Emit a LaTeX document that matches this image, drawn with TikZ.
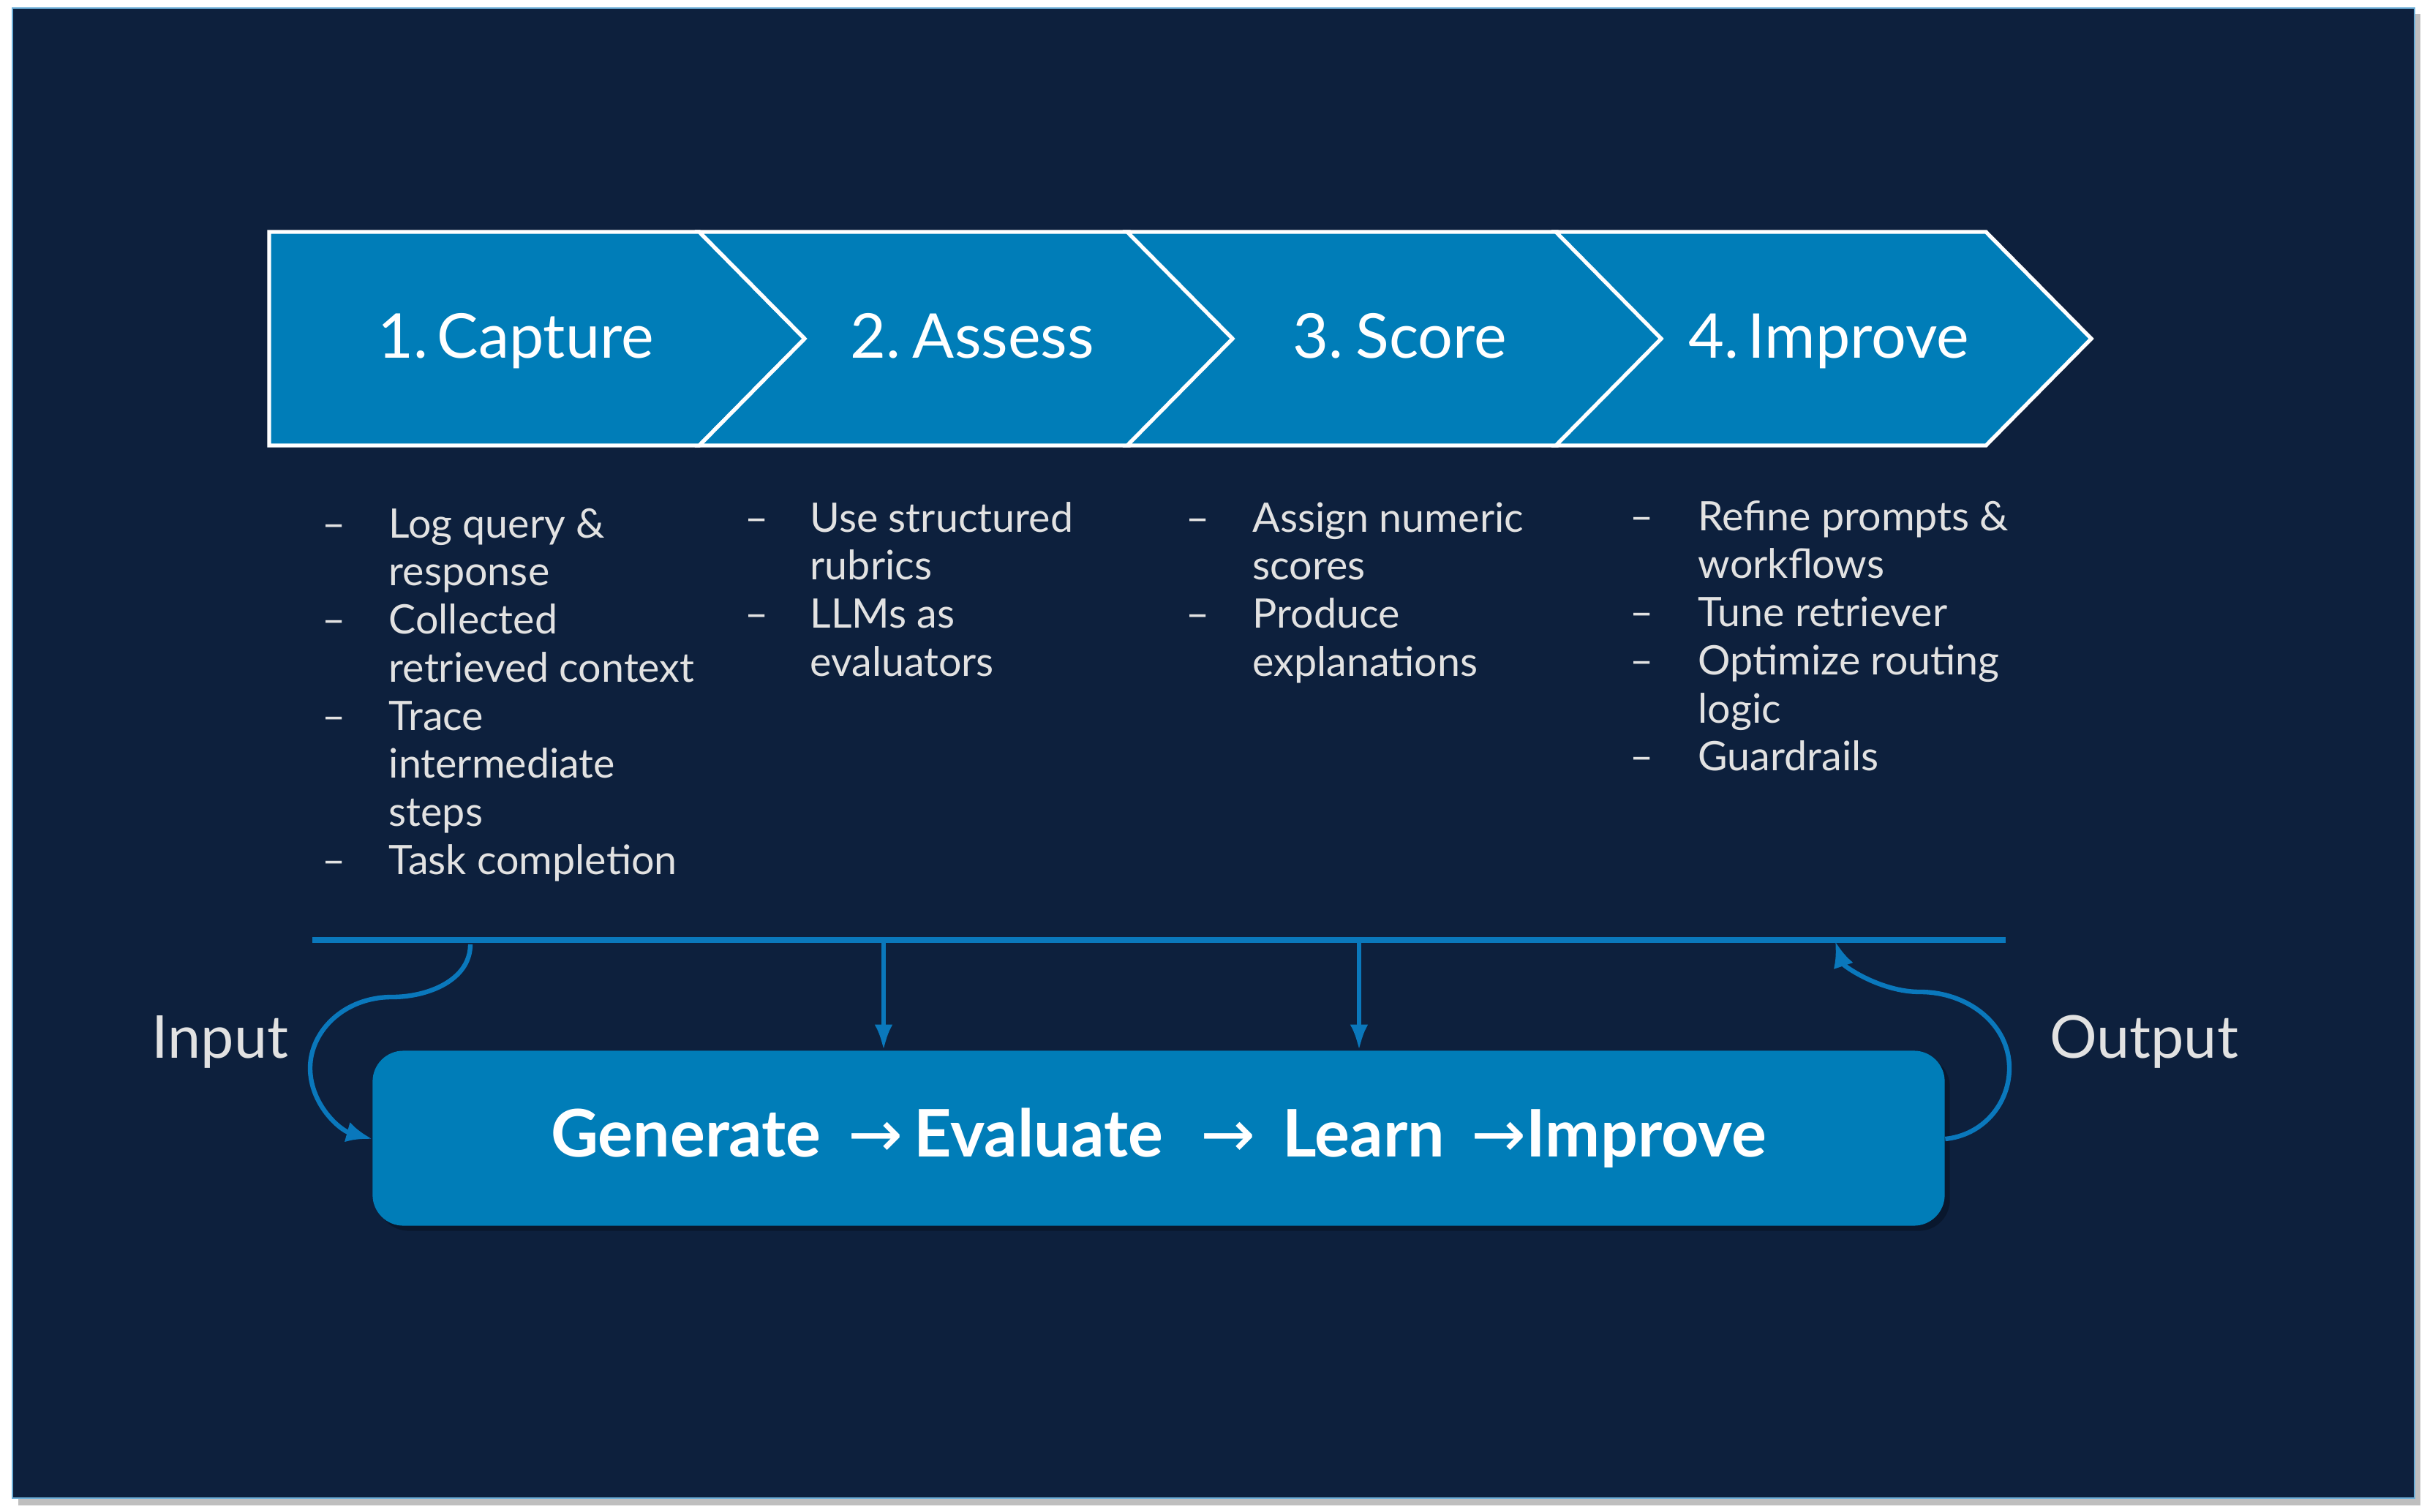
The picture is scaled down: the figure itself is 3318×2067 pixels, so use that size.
\documentclass[tikz,border=0pt]{standalone}
\usepackage{fontspec}
\setmainfont{Lato}
\newfontfamily\arrfont{DejaVu Sans}
\usetikzlibrary{arrows.meta,shadows}
\definecolor{bgc}{HTML}{0D203D}
\definecolor{chev}{HTML}{007DB8}
\definecolor{ln}{HTML}{0A78BC}
\definecolor{txt}{HTML}{E2E2E2}
\begin{document}
\begin{tikzpicture}[x=0.01cm,y=-0.01cm,
  chevbox/.style={fill=chev,draw=white,line width=1.5pt,line join=miter},
  chevlabel/.style={text=white,anchor=base,inner sep=0pt,font=\fontsize{24}{28}\selectfont},
  bullets/.style={text=txt,anchor=base west,inner sep=0pt,font=\fontsize{15.8}{18.7}\selectfont},
  conn/.style={draw=ln,line width=1.8pt},
  side/.style={text=txt,font=\fontsize{23}{26}\selectfont,anchor=base}]
\useasboundingbox (0,0) rectangle (3318,2067);
\fill[white] (0,0) rectangle (3318,2067);
\fill[black!25] (25,19) rectangle (3309,2058);
\fill[bgc,draw=ln!60,line width=0.5pt] (17,11) rectangle (3301,2048);
% chevrons
\foreach \s/\n/\t/\dx in {368/c1/1.\hspace{0.15em}Capture/337,956/c2/2.\hspace{0.2em}Assess/373,1541/c3/3.\hspace{0.2em}Score/373,2127/c4/4.\hspace{0.15em}Improve/373}{
  \ifnum\s=368
    \draw[chevbox] (\s,317) -- (\s+588,317) -- (\s+732,463) -- (\s+588,609) -- (\s,609) -- cycle;
  \else
    \draw[chevbox] (\s,317) -- (\s+588,317) -- (\s+732,463) -- (\s+588,609) -- (\s,609) -- (\s+144,463) -- cycle;
  \fi
  \node[chevlabel] (\n) at (\s+\dx,489) {\t};
}
% bullets
\node[bullets] (b1) at (440,735) {\begin{tabular}[t]{@{}p{0.91cm}@{}l@{}}
–& Log query \&\\ & response\\ –& Collected\\ & retrieved context\\ –& Trace\\ & intermediate\\ & steps\\ –& Task completion\end{tabular}};
\node[bullets] (b2) at (1018,727) {\begin{tabular}[t]{@{}p{0.89cm}@{}l@{}}
–& Use structured\\ & rubrics\\ –& LLMs as\\ & evaluators\end{tabular}};
\node[bullets] (b3) at (1621,727) {\begin{tabular}[t]{@{}p{0.91cm}@{}l@{}}
–& Assign numeric\\ & scores\\ –& Produce\\ & explanations\end{tabular}};
\node[bullets] (b4) at (2228,725) {\begin{tabular}[t]{@{}p{0.93cm}@{}l@{}}
–& Refine prompts \&\\ & workflows\\ –& Tune retriever\\ –& Optimize routing\\ & logic\\ –& Guardrails\end{tabular}};
% horizontal line
\coordinate (hl) at (427,1285);
\coordinate (hr) at (2742,1285);
\draw[ln,line width=2.2pt] (hl) -- (hr);
% main box
\node[fill=chev,rounded corners=0.42cm,minimum width=21.48cm,minimum height=2.39cm,
  drop shadow={shadow xshift=2pt,shadow yshift=-2pt,fill=black,opacity=0.25},
  text=white,font=\bfseries\fontsize{25.5}{28}\selectfont] (gen) at (1584,1556)
  {Generate {\arrfont\fontseries{m}\selectfont\,→}\,Evaluate\, {\arrfont\fontseries{m}\selectfont\,→}\, Learn\, {\arrfont\fontseries{m}\selectfont→}Improve};
\coordinate (d1) at (1208,1285);
\coordinate (d2) at (1858,1285);
\draw[conn,-{Latex[length=10pt,width=7pt]}] (d1) -- (d1 |- gen.north);
\draw[conn,-{Latex[length=10pt,width=7pt]}] (d2) -- (d2 |- gen.north);
% input / output
\coordinate (ins) at (643,1291);
\draw[conn,-{Latex[length=10pt,width=8pt]}] (ins) .. controls (643,1340) and (585,1363) .. (536,1363)
  .. controls (470,1363) and (424,1410) .. (424,1460)
  .. controls (424,1510) and (465,1545) .. (gen.west |- 0,1557);
\coordinate (outs) at (2509,1287);
\draw[conn,{Latex[length=10pt,width=8pt]}-] (outs) .. controls (2520,1320) and (2570,1356) .. (2625,1356)
  .. controls (2690,1356) and (2747,1400) .. (2747,1460)
  .. controls (2747,1510) and (2710,1552) .. (gen.east |- 0,1557);
\node[side] (inp) at (301,1446) {Input};
\node[side] (outp) at (2931,1446) {Output};
\end{tikzpicture}
\end{document}
